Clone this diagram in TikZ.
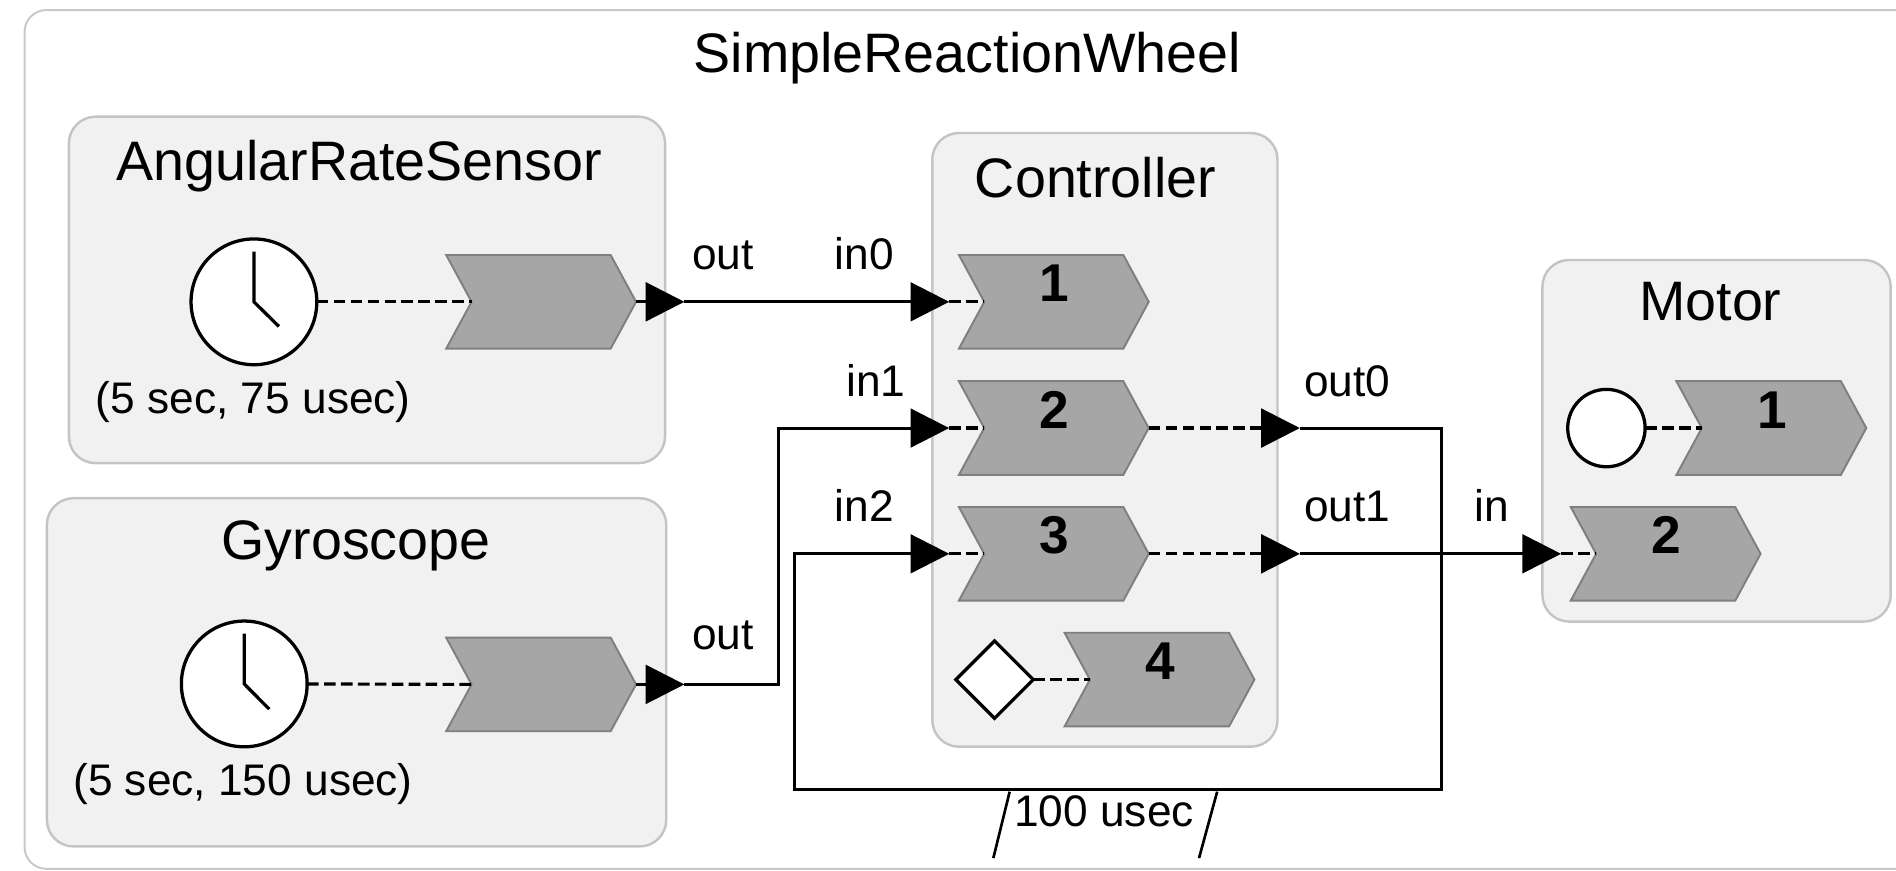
\documentclass[tikz,border=0pt]{standalone}
\usepackage{fontspec}
\setmainfont{Liberation Sans}
\usetikzlibrary{arrows.meta}

\definecolor{boxfill}{HTML}{F1F1F1}
\definecolor{boxline}{HTML}{C4C4C4}
\definecolor{chevfill}{HTML}{A6A6A6}
\definecolor{chevline}{HTML}{7F7F7F}
\definecolor{frameline}{HTML}{C8C8C8}

% port chevron: name, left x, centre y
\newcommand\portchev[3]{%
  \draw[chev] (#2,#3-38.75) -- ++(136,0) -- ++(21,38.75) -- ++(-21,38.75)
     -- ++(-136,0) -- ++(21,-38.75) -- cycle;
  \coordinate (#1-in) at (#2+21,#3);
  \coordinate (#1-out) at (#2+157,#3);
}

\begin{document}
\begin{tikzpicture}[x=0.5pt,y=-0.5pt,
  frame/.style={draw=frameline, line width=0.8pt, rounded corners=9pt, fill=white},
  block/.style={draw=boxline, line width=1pt, fill=boxfill, rounded corners=11pt},
  chev/.style={draw=chevline, line width=0.8pt, fill=chevfill},
  title/.style={font=\fontsize{23}{27}\selectfont, anchor=base, inner sep=0pt},
  lbl/.style={font=\fontsize{18.3}{22}\selectfont, anchor=base west, inner sep=0pt},
  num/.style={font=\fontsize{22}{26}\selectfont\bfseries, anchor=base, inner sep=0pt},
  wire/.style={line width=1.2pt, line join=miter},
  link/.style={line width=1.3pt, dash pattern=on 4.8pt off 2.2pt},
  tip/.style={-{Triangle[length=16pt,width=16pt]}},
  clock/.style={draw, line width=1.35pt, fill=white},
]
\useasboundingbox (0,0) rectangle (1568,720);
\clip (0,0) rectangle (1568,720);

% system frame and blocks
\draw[frame] (20.3,8.3) rectangle (1640,718.5);
\draw[block] (57,96.5) rectangle (550,383);
\draw[block] (38.8,412) rectangle (551,700);
\draw[block] (771,110) rectangle (1056.5,617.5);
\draw[block] (1275.6,215) rectangle (1563.6,514);

\node[title] (sys-title) at (800,60) {SimpleReactionWheel};
\node[title] (ars-title) at (297,149.5) {AngularRateSensor};
\node[title] (gy-title) at (294.5,463) {Gyroscope};
\node[title] (ctl-title) at (906,163) {Controller};
\node[title] (mot-title) at (1414.5,265) {Motor};

% chevron ports
\portchev{ars}{369}{249.6}
\portchev{gy}{369}{566}
\portchev{c1}{793}{249.6}
\portchev{c2}{793}{354}
\portchev{c3}{793}{458}
\portchev{c4}{880.4}{562}
\portchev{m1}{1386.4}{354}
\portchev{m2}{1299}{458}

\node[num] (c1-num) at (872,249.6) {1};
\node[num] (c2-num) at (872,354) {2};
\node[num] (c3-num) at (872,458) {3};
\node[num] (c4-num) at (959.4,562) {4};
\node[num] (m1-num) at (1465.4,354) {1};
\node[num] (m2-num) at (1378,458) {2};

% port coordinates
\coordinate (ars-port) at (566,249.6);
\coordinate (gy-port) at (566,566);
\coordinate (c1-port) at (785,249.6);
\coordinate (c2-port) at (785,354);
\coordinate (c3-port) at (785,458);
\coordinate (c2-oport) at (1075,354);
\coordinate (c3-oport) at (1075,458);
\coordinate (m2-port) at (1291,458);
\coordinate (fb-se) at (1192,653);
\coordinate (fb-sw) at (657,653);

% clocks
\coordinate (ars-clk) at (210,249.6);
\coordinate (gy-clk) at (202,565.6);
\draw[clock] (ars-clk) circle[radius=52];
\draw[line width=1.35pt] (210,208) -- (ars-clk) -- (230.7,270);
\draw[clock] (gy-clk) circle[radius=52];
\draw[line width=1.35pt] (202,524) -- (gy-clk) -- (222.7,586.5);
\coordinate (ars-clk-e) at (262,249.6);
\coordinate (gy-clk-e) at (254,565.6);
\draw[link] (ars-clk-e) -- (ars-in);
\draw[link] (gy-clk-e) -- (gy-in);

% trigger diamond and startup circle
\draw[clock] (822.5,530) -- (854.5,562) -- (822.5,594) -- (790.5,562) -- cycle;
\coordinate (c4-trig) at (854.5,562);
\draw[link] (c4-trig) -- (c4-in);
\coordinate (m1-init) at (1328.5,354);
\draw[clock] (m1-init) circle[radius=32];
\coordinate (m1-init-e) at (1360.5,354);
\draw[link] (m1-init-e) -- (m1-in);

% output ports
\draw[link,tip] (ars-out) -- (ars-port);
\draw[link,tip] (gy-out) -- (gy-port);
\draw[link,tip] (c2-out) -- (c2-oport);
\draw[link,tip] (c3-out) -- (c3-oport);

% connections
\draw[wire,tip] (ars-port) -- (c1-port);
\draw[wire,tip] (gy-port) -- ++(77.5,0) |- (c2-port);
\draw[wire,tip] (c2-oport) -| (fb-se) -- (fb-sw) |- (c3-port);
\draw[wire,tip] (c3-oport) -- (m2-port);

% input ports
\draw[link] (c1-port) -- (c1-in);
\draw[link] (c2-port) -- (c2-in);
\draw[link] (c3-port) -- (c3-in);
\draw[link] (m2-port) -- (m2-in);

% labels
\node[lbl] (ars-out-lbl) at (572,223) {out};
\node[lbl] (c-in0-lbl) at (690,223) {in0};
\node[lbl] (c-in1-lbl) at (699.5,328) {in1};
\node[lbl] (c-in2-lbl) at (690,431.5) {in2};
\node[lbl] (c-out0-lbl) at (1078,328) {out0};
\node[lbl] (c-out1-lbl) at (1078,431.5) {out1};
\node[lbl] (m-in-lbl) at (1219,431.5) {in};
\node[lbl] (gy-out-lbl) at (572,537.5) {out};
\node[lbl, anchor=base] (ars-per) at (209.5,342) {(5 sec, 75 usec)};
\node[lbl, anchor=base] (gy-per) at (201,657.5) {(5 sec, 150 usec)};

% delay on the feedback connection
\node[lbl, anchor=base] (fb-delay) at (913,683.7) {100 usec};
\draw[line width=1.1pt] (821.5,709.6) -- (835,654.7);
\draw[line width=1.1pt] (991.6,709.6) -- (1006.6,654.7);
\end{tikzpicture}
\end{document}
